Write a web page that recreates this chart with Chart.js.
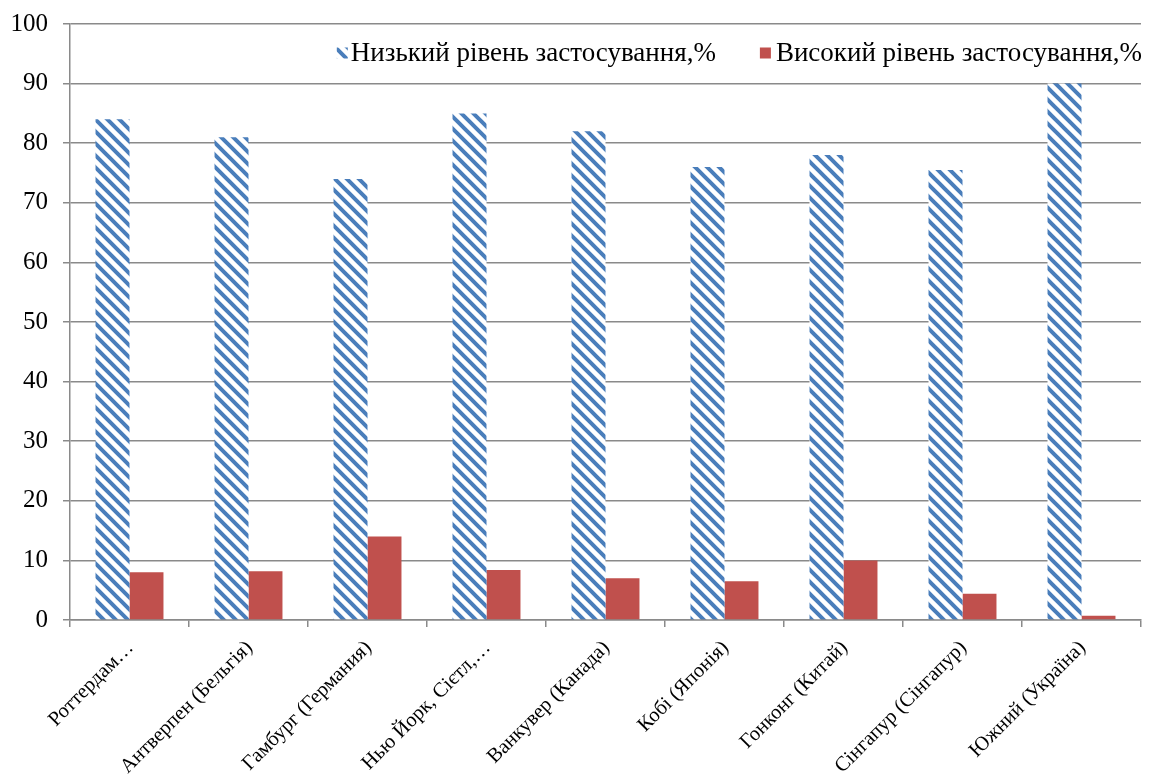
<!DOCTYPE html>
<html>
<head>
<meta charset="utf-8">
<script src="https://cdn.jsdelivr.net/npm/chart.js@4/dist/chart.umd.min.js"></script>
<style>
  html, body { margin: 0; padding: 0; background: #ffffff; }
  #wrap { width: 1151px; height: 775px; position: relative; }
</style>
</head>
<body>
<div id="wrap"><canvas id="c" width="1151" height="775"></canvas></div>
<script>
const categories = [
  'Роттердам…',
  'Антверпен (Бельгія)',
  'Гамбург (Германия)',
  'Нью Йорк, Сієтл,…',
  'Ванкувер (Канада)',
  'Кобі (Японія)',
  'Гонконг (Китай)',
  'Сінгапур (Сінгапур)',
  'Южний (Україна)'
];
const lowValues = [84, 81, 74, 85, 82, 76, 78, 75.5, 90];
const highValues = [8, 8.2, 14, 8.4, 7, 6.5, 10, 4.4, 0.7];
const seriesNames = ['Низький рівень застосування,%', 'Високий рівень застосування,%'];
const yMin = 0;
const yMax = 100;
const yStep = 10;

const FONT = '"Liberation Serif", "Times New Roman", serif';
const BLUE = '#4a7ebb';
const RED = '#c0504d';
const GRID = '#8a8a8a';

function makeHatch() {
  const s = 12;
  const c = document.createElement('canvas');
  c.width = s; c.height = s;
  const g = c.getContext('2d');
  g.fillStyle = '#ffffff';
  g.fillRect(0, 0, s, s);
  g.strokeStyle = BLUE;
  g.lineWidth = 4;
  g.beginPath();
  for (let k = -1; k <= 1; k++) {
    g.moveTo(k * s - 2, -2);
    g.lineTo(k * s + s + 2, s + 2);
  }
  g.stroke();
  return g.createPattern(c, 'repeat');
}

const legendPlugin = {
  id: 'insideLegend',
  afterDraw(chart) {
    const ctx = chart.ctx;
    const area = chart.chartArea;
    ctx.save();
    ctx.font = '27px ' + FONT;
    ctx.textBaseline = 'middle';
    const y = 54;
    const box = 11;
    const gapText = [3, 5];
    const gapItems = 44;
    const items = chart.data.datasets.map(ds => ({ text: ds.label, fill: ds.backgroundColor, w: ctx.measureText(ds.label).width }));
    let total = 0;
    items.forEach((it, i) => { total += box + gapText[i] + it.w + (i < items.length - 1 ? gapItems : 0); });
    let x = area.right + 1 - total;
    items.forEach((it, i) => {
      ctx.fillStyle = it.fill;
      ctx.fillRect(x, y - box / 2 - 1, box, box);
      x += box + gapText[i];
      ctx.fillStyle = '#000000';
      ctx.textAlign = 'left';
      ctx.fillText(it.text, x, y);
      x += it.w + gapItems;
    });
    ctx.restore();
  }
};

new Chart(document.getElementById('c'), {
  type: 'bar',
  data: {
    labels: categories,
    datasets: [
      { label: seriesNames[0], data: lowValues, backgroundColor: makeHatch(), borderWidth: 0 },
      { label: seriesNames[1], data: highValues, backgroundColor: RED, borderWidth: 0 }
    ]
  },
  options: {
    responsive: false,
    animation: false,
    devicePixelRatio: 1,
    layout: { padding: { top: 24, right: 10, left: 0, bottom: 0 } },
    categoryPercentage: 0.571,
    barPercentage: 1,
    plugins: {
      legend: { display: false },
      tooltip: { enabled: false }
    },
    scales: {
      x: {
        grid: { display: true, drawOnChartArea: false, drawTicks: true, tickLength: 7, color: GRID, lineWidth: 1.5, offset: true },
        border: { display: true, color: GRID, width: 1.5 },
        ticks: {
          autoSkip: false, minRotation: 45, maxRotation: 45,
          font: { family: FONT, size: 20.5 }, color: '#000000', padding: 9, labelOffset: 1
        },
        afterFit(scale) {
          scale.height = 155;
          scale.paddingLeft = 0; scale.paddingRight = 0;
        }
      },
      y: {
        min: yMin, max: yMax,
        ticks: { stepSize: yStep, font: { family: FONT, size: 25 }, color: '#000000', padding: 15 },
        grid: { color: GRID, lineWidth: 1.5, tickLength: 7, drawTicks: true },
        border: { display: true, color: GRID, width: 1.5 },
        afterFit(scale) {
          scale.width = 70;
          scale.paddingTop = 0; scale.paddingBottom = 0;
        }
      }
    }
  },
  plugins: [legendPlugin]
});
</script>
</body>
</html>
